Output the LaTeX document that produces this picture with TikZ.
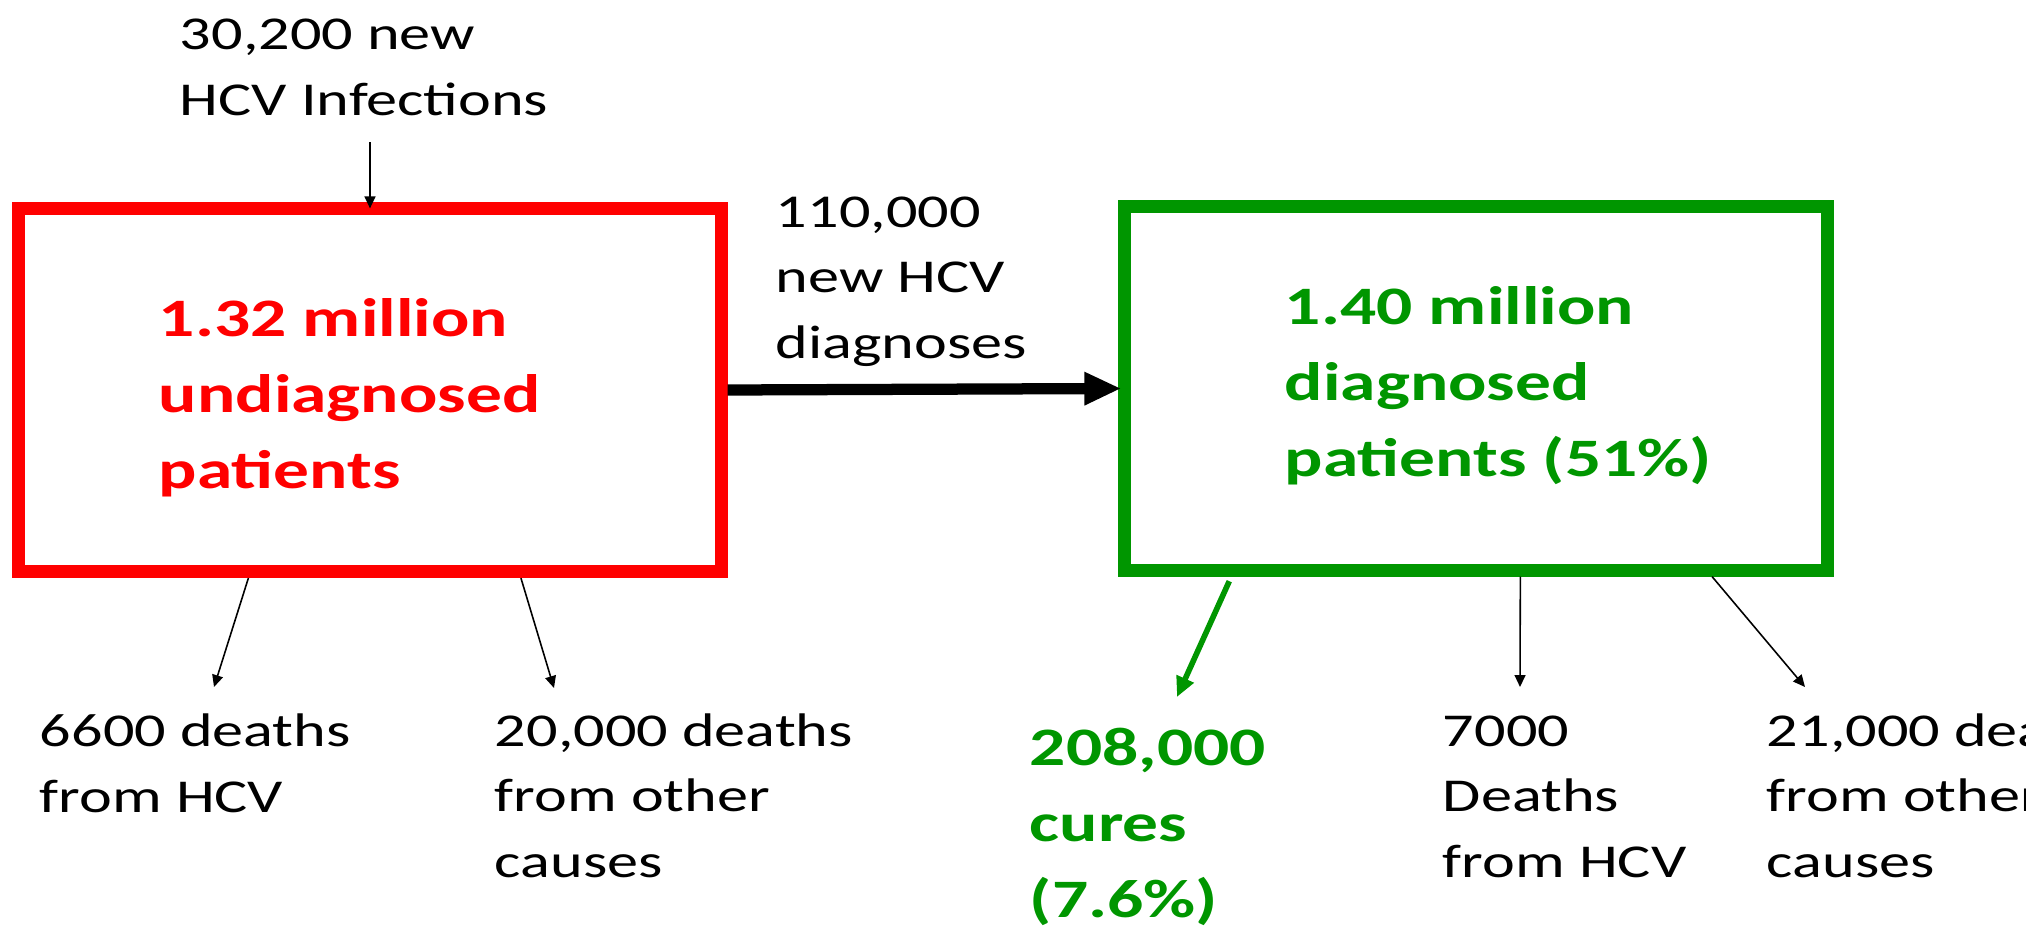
\documentclass[tikz,border=0pt]{standalone}
\usepackage{fontspec}
\setmainfont{Carlito}
\usepackage{tikz}
\usetikzlibrary{arrows.meta,calc}

\definecolor{poolred}{RGB}{255,0,0}
\definecolor{poolgreen}{RGB}{0,150,0}

\tikzset{
  pool/.style={draw,rectangle,line width=3.7pt,minimum width=7.02cm,minimum height=3.63cm,inner sep=0pt},
  lbl/.style={anchor=base west,align=left,inner sep=0pt,xscale=1.32,font=\fontsize{13.4}{18.5}\selectfont},
  big/.style={anchor=base west,align=left,inner sep=0pt,xscale=1.32,font=\fontsize{15.4}{21.6}\selectfont\bfseries},
  flow/.style={-{Triangle[length=3.4pt,width=3.1pt]},line width=0.45pt},
  cureflow/.style={-{Triangle[length=5.7pt,width=5.1pt]},line width=1.6pt,poolgreen},
  diagflow/.style={-{Triangle[length=10.5pt,width=8.8pt]},line width=3.2pt}
}

\begin{document}
\begin{tikzpicture}[x=0.01cm,y=-0.01cm]
  \clip (0,0) rectangle (2026,927);
   \draw (370,390) node[pool,poolred] (undiagnosed) {};
   \draw (1476,388.5) node[pool,poolgreen] (diagnosed) {};

  \draw (179,115) node[lbl] (infections) {30,200 new\\HCV Infections};
  \draw (775,358) node[lbl] (newdiag) {110,000\\new HCV\\diagnoses};
  \draw (158,488) node[big,poolred] (undiagtext) {1.32 million\\undiagnosed\\patients};
  \draw (1284,476) node[big,poolgreen] (diagtext) {1.40 million\\diagnosed\\patients (51\%)};
	\draw (39,812) node[lbl] (hcvU) {6600 deaths\\from HCV};
  \draw (494,877) node[lbl] (otherU) {20,000 deaths\\from other\\causes};
  \draw (1029,917) node[big,poolgreen] (cures) {208,000\\cures\\(7.6\%)};
  \draw (1442,877) node[lbl] (hcvD) {7000\\Deaths\\from HCV};
  \draw (1766,877) node[lbl] (otherD) {21,000 deaths\\from other\\causes};

  \coordinate (infections-out) at (370,142);
  \coordinate (hcvU-in) at (214,687);
  \coordinate (otherU-in) at (554,688);
  \coordinate (cures-in) at (1177,697);
  \coordinate (hcvD-in) at (1520,687);
  \coordinate (otherD-in) at (1805,687);

    \path[flow] (infections-out) edge[shorten >=-0.065cm] (undiagnosed.north);
    \path[diagflow] (undiagnosed.east) edge[shorten >=-0.03cm] (diagnosed.west);
     \path[flow] ($(undiagnosed.south west)!.33!(undiagnosed.south east)$) edge (hcvU-in);
     \path[flow] ($(undiagnosed.south west)!.711!(undiagnosed.south east)$) edge (otherU-in);
      \path[cureflow] ($(diagnosed.south west)!.158!(diagnosed.south east)$) edge[shorten <=0.05cm] (cures-in);
     \path[flow] ($(diagnosed.south west)!.562!(diagnosed.south east)$) edge (hcvD-in);
     \path[flow] ($(diagnosed.south west)!.83!(diagnosed.south east)$) edge (otherD-in);

\end{tikzpicture}
\end{document}
